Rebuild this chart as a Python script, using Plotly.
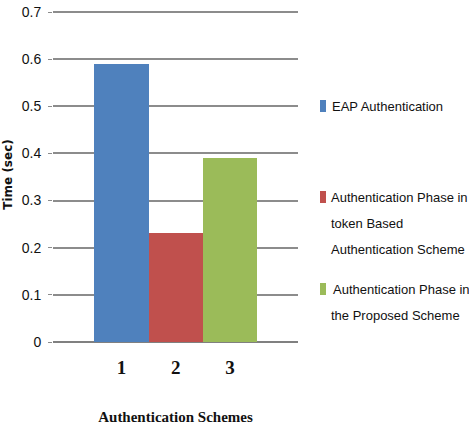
import plotly.graph_objects as go

categories = ["1", "2", "3"]
series_names = ["EAP Authentication",
                "Authentication Phase in<br>token Based<br>Authentication Scheme",
                "Authentication Phase in<br>the Proposed Scheme"]
values = [0.59, 0.231, 0.39]
colors = ["#4F81BD", "#C0504D", "#9BBB59"]
y_ticks = [0, 0.1, 0.2, 0.3, 0.4, 0.5, 0.6, 0.7]
y_labels = ["0", "0.1", "0.2", "0.3", "0.4", "0.5", "0.6", "0.7"]

W, H = 469, 430
ML, MR, MT, MB = 53, 171, 7, 88

fig = go.Figure()
for i, (c, v, name, col) in enumerate(zip(categories, values, series_names, colors)):
    fig.add_trace(go.Bar(x=[i + 1], y=[v], name=name, marker=dict(color=col, line=dict(width=0)),
                         width=1.0, showlegend=False))

# custom legend (pixel layout converted to paper coords)
def px(x):
    return (x - ML) / (W - ML - MR)

def py(y):
    return 1 - (y - MT) / (H - MT - MB)

legend_rows = [
    (106, [(331, "EAP Authentication")]),
    (197, [(330, "Authentication Phase in"), (330, "token Based"), (330, "Authentication Scheme")]),
    (289, [(332, "Authentication Phase in"), (330, "the Proposed Scheme")]),
]
for (y0, lines), col in zip(legend_rows, colors):
    fig.add_shape(type="rect", xref="paper", yref="paper",
                  x0=px(320), x1=px(326), y0=py(y0 + 6), y1=py(y0 - 6),
                  fillcolor=col, line=dict(width=0))
    for k, (x0, t) in enumerate(lines):
        fig.add_annotation(xref="paper", yref="paper", x=px(x0), y=py(y0 + 26 * k),
                           text=t, showarrow=False, xanchor="left", yanchor="middle",
                           xshift=-1,
                           font=dict(family="Liberation Sans", size=13, color="#111"))

fig.update_layout(
    width=W, height=H,
    margin=dict(l=ML, r=MR, t=MT, b=MB),
    paper_bgcolor="white", plot_bgcolor="white",
    barmode="overlay", bargap=0,
    xaxis=dict(range=[-0.26, 4.25], tickvals=[1, 2, 3], ticktext=["<b>%s</b>" % c for c in categories],
               showgrid=False, zeroline=False, showline=False, automargin=False,
               tickfont=dict(family="Liberation Serif", size=19, color="#111"),
               ticks="", ticklabelstandoff=12,
               title=dict(text="<b>Authentication Schemes</b>", standoff=34,
                          font=dict(family="Liberation Serif", size=15, color="#111"))),
    yaxis=dict(range=[0, 0.7106], tickvals=y_ticks, ticktext=y_labels, automargin=False,
               showgrid=True, gridcolor="#8c8c8c", gridwidth=1.5,
               zeroline=True, zerolinecolor="#808080", zerolinewidth=2,
               showline=False, ticks="outside", ticklen=4, tickcolor="#8c8c8c",
               ticklabelstandoff=4,
               tickfont=dict(family="Liberation Sans", size=14, color="#111"),
               title=dict(text="<b>Time (sec)</b>", standoff=6,
                          font=dict(family="DejaVu Sans", size=12, color="#111"))),
)

fig.write_html("out.html")
